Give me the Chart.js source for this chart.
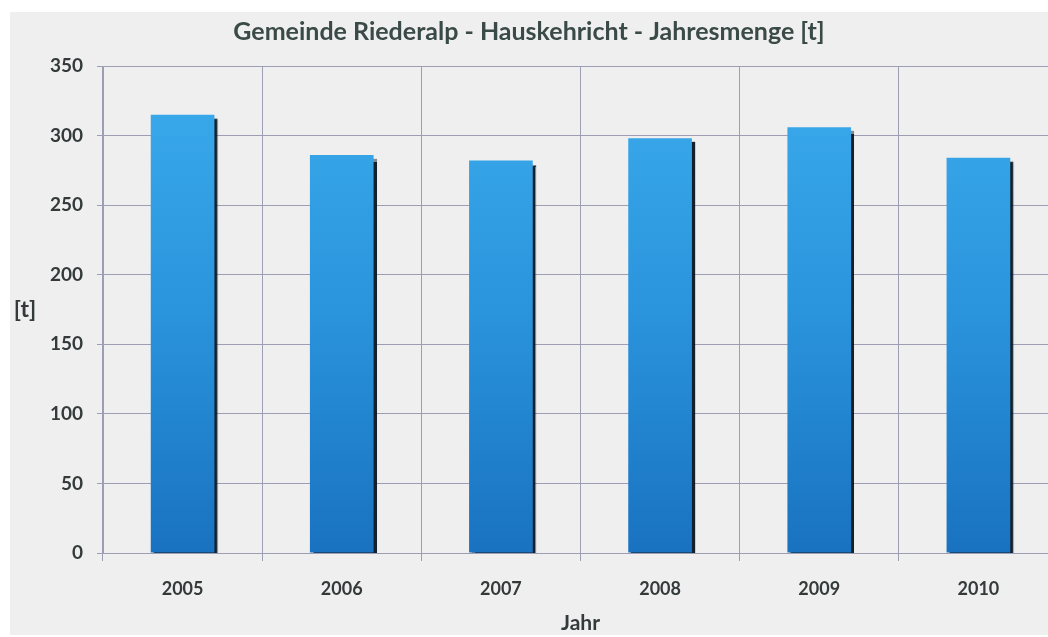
<!DOCTYPE html>
<html>
<head>
<meta charset="utf-8">
<script src="https://cdn.jsdelivr.net/npm/chart.js@4.4.1/dist/chart.umd.min.js"></script>
<style>
  html, body { margin:0; padding:0; background:#ffffff; overflow:hidden; width:1048px; height:637px; }
  #wrap { position:absolute; left:0; top:0; width:1058px; height:637px; }
</style>
</head>
<body>
<div id="wrap"><canvas id="c" width="1058" height="637"></canvas></div>
<script>
const chartTitle = "Gemeinde Riederalp - Hauskehricht - Jahresmenge [t]";
const years = ["2005", "2006", "2007", "2008", "2009", "2010"];
const tonnes = [315, 286, 282, 298, 306, 284];
const yTicks = [0, 50, 100, 150, 200, 250, 300, 350];
const yAxisLabel = "[t]";
const xAxisLabel = "Jahr";

const FONT = "Lato, 'Open Sans', sans-serif";
const TEXT = "#343a3a";
const GRID = "#9d9db4";

const panelPlugin = {
  id: 'panel',
  beforeDraw(chart) {
    const ctx = chart.ctx;
    ctx.save();
    ctx.fillStyle = '#ffffff';
    ctx.fillRect(0, 0, chart.width, chart.height);
    ctx.fillStyle = '#efefef';
    ctx.fillRect(10, 12, chart.width - 10, chart.height - 14);
    ctx.restore();
  }
};

const yLabelPlugin = {
  id: 'ylabel',
  afterDraw(chart) {
    const ctx = chart.ctx;
    const a = chart.chartArea;
    ctx.save();
    ctx.font = "bold 23px " + FONT;
    ctx.fillStyle = TEXT;
    ctx.textAlign = 'center';
    ctx.textBaseline = 'middle';
    ctx.fillText(yAxisLabel, 25, (a.top + a.bottom) / 2);
    ctx.restore();
  }
};

const shadowPlugin = {
  id: 'barshadow',
  beforeDatasetDraw(chart) {
    const ctx = chart.ctx;
    ctx.save();
    ctx.shadowColor = 'rgba(8,22,34,0.95)';
    ctx.shadowOffsetX = 3;
    ctx.shadowOffsetY = 4;
    ctx.shadowBlur = 1;
  },
  afterDatasetDraw(chart) {
    chart.ctx.restore();
  }
};

new Chart(document.getElementById('c'), {
  type: 'bar',
  data: {
    labels: years,
    datasets: [{
      data: tonnes,
      backgroundColor(context) {
        const chart = context.chart;
        const a = chart.chartArea;
        if (!a) return '#2b94dc';
        const g = chart.ctx.createLinearGradient(0, a.top, 0, a.bottom);
        g.addColorStop(0, '#3caced');
        g.addColorStop(0.5, '#2a94dc');
        g.addColorStop(1, '#1972c0');
        return g;
      },
      borderWidth: 0,
      barPercentage: 0.4,
      categoryPercentage: 1.0
    }]
  },
  options: {
    responsive: false,
    animation: false,
    layout: { padding: { left: 0, right: 0, top: 0, bottom: 0 } },
    plugins: {
      legend: { display: false },
      tooltip: { enabled: false },
      title: {
        display: true,
        text: chartTitle,
        color: "#3a4a46",
        font: { family: FONT, size: 25, weight: 'bold' },
        padding: { top: 17, bottom: 19 }
      }
    },
    scales: {
      x: {
        grid: { color: GRID, lineWidth: 1, offset: true, tickLength: 8, drawTicks: true },
        border: { color: GRID },
        ticks: { color: TEXT, font: { family: FONT, size: 18, weight: 'bold' }, padding: 17 },
        title: { display: true, text: xAxisLabel, color: TEXT, font: { family: FONT, size: 21, weight: 'bold' }, padding: { top: 4, bottom: 1 } },
        afterFit(scale) { scale.height = 84; }
      },
      y: {
        min: 0, max: 350,
        afterBuildTicks(scale) { scale.ticks = yTicks.map(v => ({ value: v })); },
        grid: { color: GRID, lineWidth: 1, tickLength: 6 },
        border: { color: GRID },
        ticks: { color: TEXT, font: { family: FONT, size: 19, weight: 'bold' }, padding: 14 },
        afterFit(scale) { scale.width = 103; }
      }
    }
  },
  plugins: [panelPlugin, shadowPlugin, yLabelPlugin]
});
</script>
</body>
</html>
